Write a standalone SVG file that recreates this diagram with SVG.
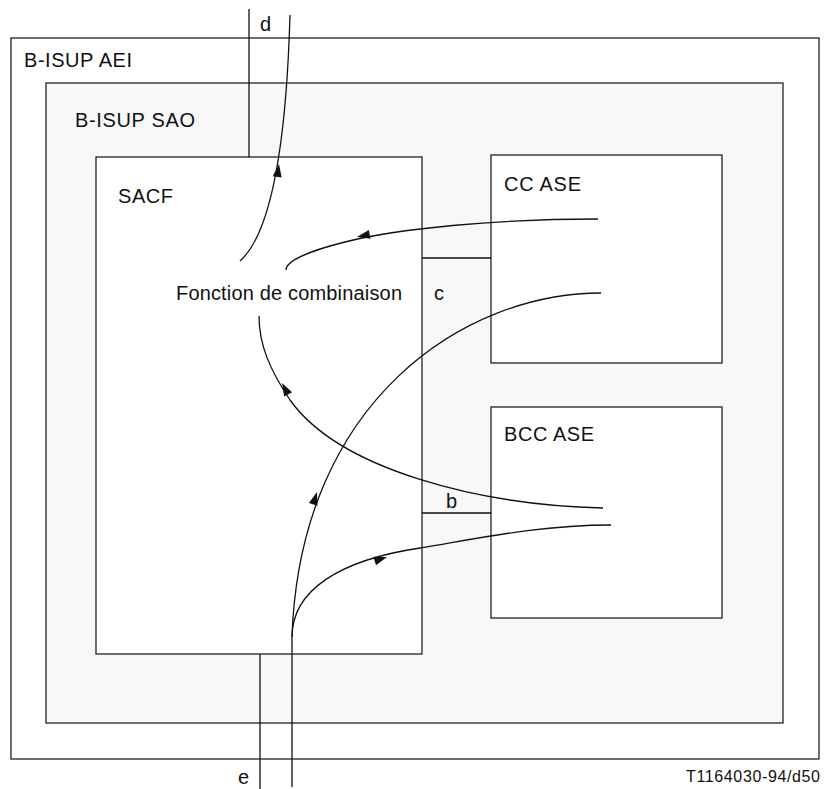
<svg xmlns="http://www.w3.org/2000/svg" xmlns:xlink="http://www.w3.org/1999/xlink" width="824" height="789" viewBox="0 0 824 789">
<style>
.box{stroke:#222;stroke-width:1.3;fill:#fff}
.sao{stroke:#222;stroke-width:1.3;fill:#f8f8f8}
.ln{stroke:#111;stroke-width:1.3;fill:none}
.t{font-family:"Liberation Sans",Arial,sans-serif;font-size:20px;fill:#111}
.s{font-size:16px}
.ah{fill:#111}
</style>
<defs>
<path id="ah" d="M0,0 L-13,-4.5 L-13,4.5 Z"/>
</defs>
<g id="aei"><rect class="box" x="11" y="38" width="808" height="721"/><text class="t" x="24" y="67" textLength="108">B-ISUP AEI</text></g>
<g id="sao"><rect class="sao" x="46" y="83" width="737" height="640"/><text class="t" x="75" y="127" textLength="120">B-ISUP SAO</text></g>
<g id="sacf"><rect class="box" x="96" y="157" width="326" height="497"/><text class="t" x="118" y="203" textLength="55">SACF</text><text class="t" x="176" y="300" textLength="226">Fonction de combinaison</text></g>
<g id="ccase"><rect class="box" x="491" y="155" width="231" height="208"/><text class="t" x="504" y="191" textLength="77">CC ASE</text></g>
<g id="bccase"><rect class="box" x="491" y="407" width="231" height="211"/><text class="t" x="504" y="441" textLength="90">BCC ASE</text></g>
<g id="connectors">
<line class="ln" x1="422" y1="258" x2="491" y2="258"/>
<line class="ln" x1="422" y1="513" x2="491" y2="513"/>
<line class="ln" x1="249" y1="9" x2="249" y2="157"/>
<line class="ln" x1="260" y1="654" x2="260" y2="789"/>
<line class="ln" x1="292" y1="637" x2="292" y2="787"/>
<path class="ln" d="M240,261 C275,230 287,120 290,15"/>
<path class="ln" d="M598,219 C500,219 400,228 345,242 C305,252 286,262 286,270"/>
<path class="ln" d="M601,293 C465,293 300,400 292,637"/>
<path class="ln" d="M603,508 C480,505 340,470 290,400 C270,370 259,345 259,316"/>
<path class="ln" d="M292,637 C292,590 340,560 420,548 C480,538 540,525 611,525"/>
<use href="#ah" class="ah" transform="translate(279,164) rotate(-82)"/>
<use href="#ah" class="ah" transform="translate(357,237) rotate(168)"/>
<use href="#ah" class="ah" transform="translate(282,383) rotate(-118)"/>
<use href="#ah" class="ah" transform="translate(317,492) rotate(-73)"/>
<use href="#ah" class="ah" transform="translate(387,557) rotate(-18)"/>
<text class="t" x="434" y="300">c</text>
<text class="t" x="446" y="508">b</text>
<text class="t" x="260" y="31">d</text>
<text class="t" x="238" y="784">e</text>
</g>
<text class="t s" x="820" y="782" text-anchor="end" textLength="134">T1164030-94/d50</text>
</svg>
